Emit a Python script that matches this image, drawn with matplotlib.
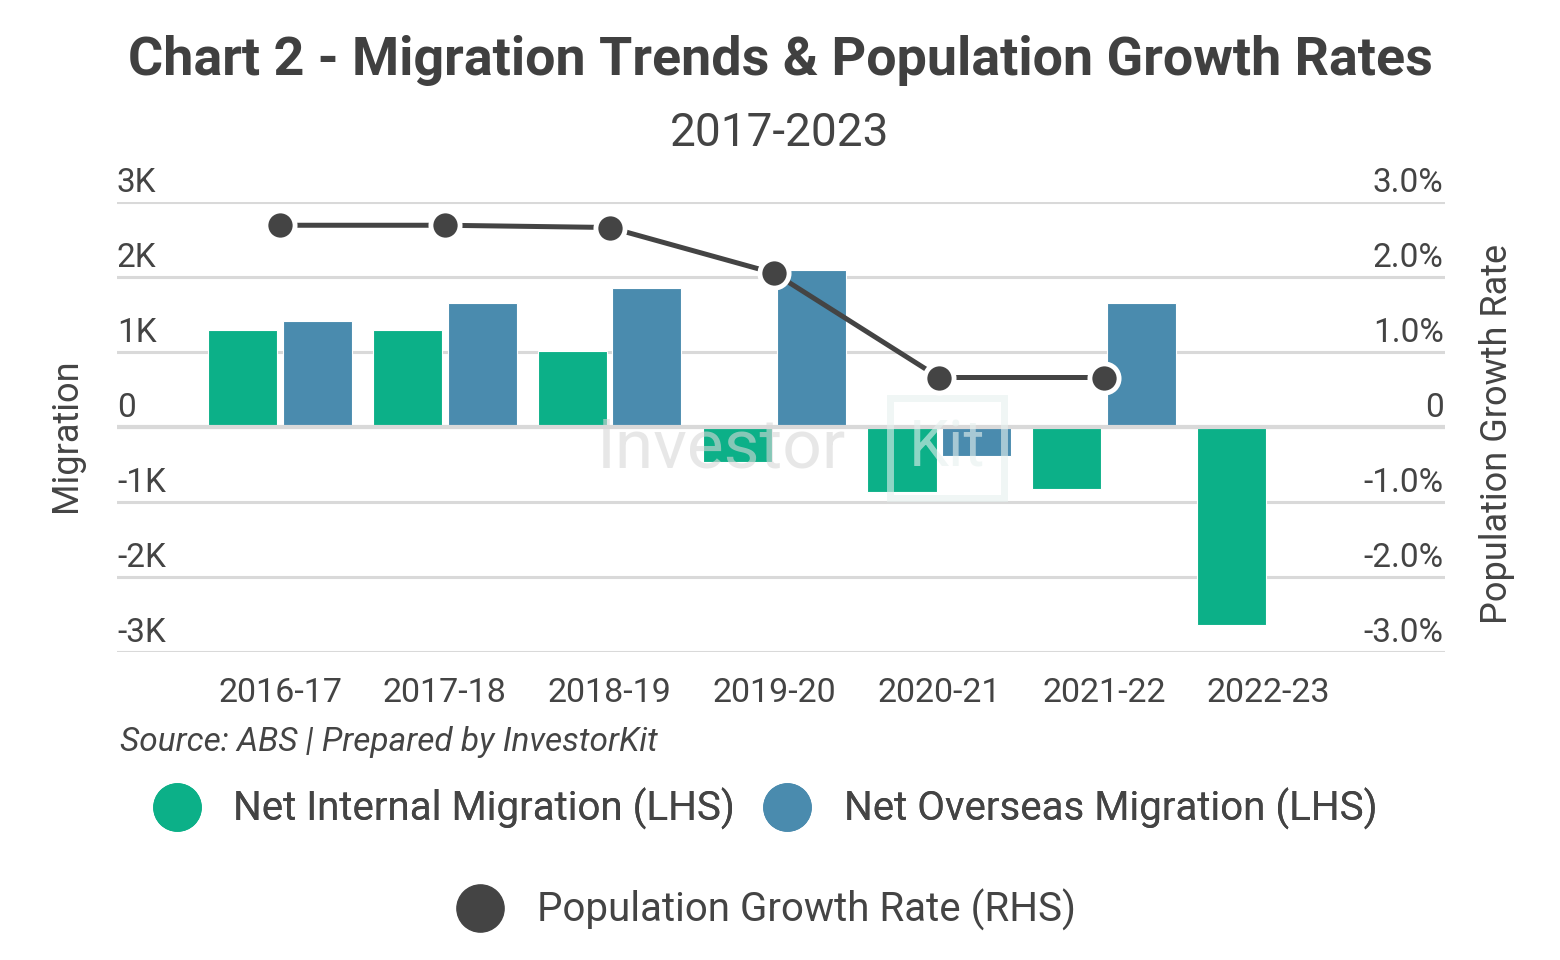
import matplotlib
matplotlib.use("Agg")
import matplotlib.pyplot as plt
import matplotlib.transforms as mtransforms
from matplotlib.lines import Line2D
import numpy as np

plt.rcParams['font.family'] = ['Roboto', 'DejaVu Sans']

# data
years = ["2016-17", "2017-18", "2018-19", "2019-20", "2020-21", "2021-22", "2022-23"]
net_internal = [1293, 1293, 1012, -468, -870, -833, -2634]
net_overseas = [1413, 1654, 1854, 2095, -388, 1654, np.nan]
growth_rate = [2.69, 2.69, 2.66, 2.05, 0.66, 0.66, np.nan]

left_ticks = [-3000, -2000, -1000, 0, 1000, 2000, 3000]
right_ticks = [-3.0, -2.0, -1.0, 0.0, 1.0, 2.0, 3.0]

GREEN = "#0cb088"
BLUE = "#4a8bae"
DARK = "#444444"
TXT = "#444444"
GRID = "#d9d9d9"

fig = plt.figure(figsize=(15.6, 9.6), dpi=100)
W, H = 1560, 960
ax = fig.add_axes([117 / W, 1 - 652 / H, (1445 - 117) / W, (652 - 202) / H])
ax2 = ax.twinx()

x = np.arange(len(years))
bw = 0.42
off = 0.226

for s in ax.spines.values():
    s.set_visible(False)
for s in ax2.spines.values():
    s.set_visible(False)

ax.set_ylim(-3000, 3000)
ax2.set_ylim(-3.0, 3.0)
ax.set_xlim(-0.99, 7.07)

for v in left_ticks:
    ax.axhline(v, color=GRID, lw=2.2, zorder=0)

ax.bar(x - off, net_internal, width=bw, color=GREEN, edgecolor="white", linewidth=0.8, zorder=2)
ax.bar(x + off, net_overseas, width=bw, color=BLUE, edgecolor="white", linewidth=0.8, zorder=2)
ax.axhline(0, color=GRID, lw=3, zorder=3)

# watermark
ax.text(0.455, 0.453, "Investor", transform=ax.transAxes, fontsize=50, color="#d8d8d8",
        ha="center", va="center", alpha=0.6, zorder=4)
ax.text(0.625, 0.453, "Kit", transform=ax.transAxes, fontsize=46, color="#e6f1ef",
        ha="center", va="center", alpha=0.6, zorder=4,
        bbox=dict(boxstyle="square,pad=0.3", fc="none", ec="#e6f1ef", lw=5, alpha=0.6))

ax2.plot(x, growth_rate, color=DARK, lw=3.6, marker="o", ms=21, mfc=DARK,
         mec="white", mew=3.5, zorder=5)
ax2.set_zorder(ax.get_zorder() + 1)
ax.patch.set_visible(False)

ax.set_yticks([])
ax2.set_yticks([])
ax.set_xticks(x)
ax.set_xticklabels(years, fontsize=24.5, color=TXT)
ax.tick_params(axis="x", length=0, pad=18)

tl = mtransforms.blended_transform_factory(ax.transAxes, ax.transData)
for v in left_ticks:
    lab = "0" if v == 0 else f"{v // 1000}K"
    ax.text(0.0, v + 45, lab, transform=tl, ha="left", va="bottom", fontsize=24, color=TXT)
tr = mtransforms.blended_transform_factory(ax2.transAxes, ax2.transData)
for v in right_ticks:
    lab = "0" if v == 0 else f"{v:.1f}%"
    ax2.text(0.999, v + 0.045, lab, transform=tr, ha="right", va="bottom", fontsize=24, color=TXT)

fig.text(66 / W, 1 - 435 / H, "Migration", rotation=90, ha="center", va="center",
         fontsize=26, color=TXT)
fig.text(1497 / W, 1 - 434 / H, "Population Growth Rate", rotation=90, ha="center",
         va="center", fontsize=26, color=TXT)

fig.text(0.5, 1 - 61 / H, "Chart 2 - Migration Trends & Population Growth Rates",
         ha="center", va="center", fontsize=38.8, fontweight="bold", color="#404040")
fig.text(0.5, 1 - 133 / H, "2017-2023", ha="center", va="center", fontsize=33, color=TXT)
fig.text(120 / W, 1 - 742 / H, "Source: ABS | Prepared by InvestorKit", ha="left",
         va="center", fontsize=24, style="italic", color=TXT)

h1 = Line2D([], [], ls="none", marker="o", ms=34, mfc=GREEN, mec=GREEN)
h2 = Line2D([], [], ls="none", marker="o", ms=34, mfc=BLUE, mec=BLUE)
h3 = Line2D([], [], ls="none", marker="o", ms=34, mfc=DARK, mec=DARK)
leg1 = fig.legend([h1, h2], ["Net Internal Migration (LHS)", "Net Overseas Migration (LHS)"],
                  loc="center", bbox_to_anchor=(0.5 - 15 / W, 1 - 809 / H), ncol=2,
                  frameon=False, fontsize=29, labelcolor=TXT, handletextpad=0.8,
                  columnspacing=0.7, handlelength=1.2)
fig.add_artist(leg1)
fig.legend([h3], ["Population Growth Rate (RHS)"], loc="center",
           bbox_to_anchor=(0.5 - 14 / W, 1 - 910 / H), frameon=False, fontsize=29,
           labelcolor=TXT, handletextpad=0.8, handlelength=1.2)

fig.savefig("out.png", dpi=100, facecolor="white")
